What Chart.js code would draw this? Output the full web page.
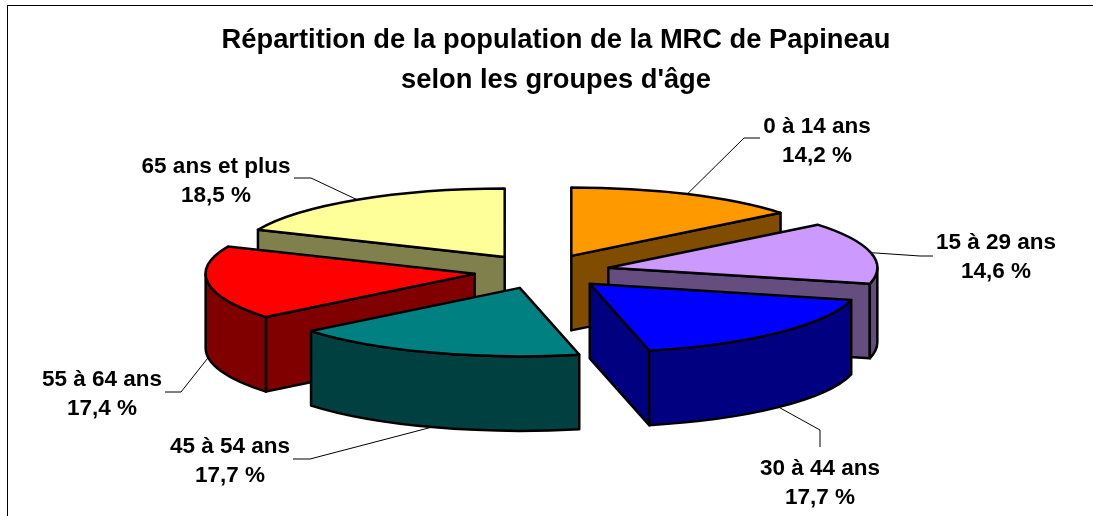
<!DOCTYPE html>
<html lang="fr">
<head>
<meta charset="utf-8">
<title>Répartition de la population de la MRC de Papineau</title>
<script src="https://cdn.jsdelivr.net/npm/chart.js@4/dist/chart.umd.min.js"></script>
<style>
  html, body { margin: 0; background: #fff; overflow: hidden; }
  #frame { position: absolute; left: 7px; top: 5px; right: 0; bottom: 0; border-left: 1px solid #000; border-top: 1px solid #000; }
  canvas { position: absolute; left: 0; top: 0; }
</style>
</head>
<body>
<div id="frame"></div>
<canvas id="pie" width="1093" height="516"></canvas>
<script>
// ===== Data =====
const ageGroups = ['0 à 14 ans', '15 à 29 ans', '30 à 44 ans', '45 à 54 ans', '55 à 64 ans', '65 ans et plus'];
const shares = [14.2, 14.6, 17.7, 17.7, 17.4, 18.5];
const titleLines = ['Répartition de la population de la MRC de Papineau', "selon les groupes d'âge"];

// ===== Colours =====
const topColors = ['#FF9900', '#CC99FF', '#0000FF', '#008080', '#FF0000', '#FFFF99'];
const sideColors = ['#804D00', '#664D80', '#000080', '#004040', '#800000', '#80804D'];

// ===== 3D look =====
const FONT = '"Liberation Sans", Arial, sans-serif';
const pieCenter = { x: 542, y: 271.5 };
const RADIUS = 269;
const TILT = 68.5 / 269; // vertical squash of the pie
const DEPTH = 74.5;
const EXPLODE = 68;

// label centre + first baseline, then the elbow of the leader line
const labelSpots = [
  { x: 817, y: 133, from: [760, 138], elbow: [744, 138] },
  { x: 996, y: 249, from: [933, 256], elbow: [920, 256] },
  { x: 820, y: 475, from: [820, 447], elbow: [820, 430] },
  { x: 230, y: 453, from: [293, 459], elbow: [310, 459] },
  { x: 102, y: 386, from: [165, 392], elbow: [181, 392] },
  { x: 216, y: 173, from: [294, 178], elbow: [311, 178] }
];

function apexOf(arc) {
  const mid = (arc.startAngle + arc.endAngle) / 2;
  return {
    x: pieCenter.x + Math.cos(mid) * EXPLODE,
    y: pieCenter.y + Math.sin(mid) * EXPLODE * TILT
  };
}

function rimPoint(apex, angle) {
  return {
    x: apex.x + Math.cos(angle) * RADIUS,
    y: apex.y + Math.sin(angle) * RADIUS * TILT
  };
}

function paintFace(ctx, color) {
  ctx.fillStyle = color;
  ctx.fill();
  ctx.stroke();
}

function drawWall(ctx, apex, angle, color) {
  const p = rimPoint(apex, angle);
  ctx.beginPath();
  ctx.moveTo(apex.x, apex.y);
  ctx.lineTo(p.x, p.y);
  ctx.lineTo(p.x, p.y + DEPTH);
  ctx.lineTo(apex.x, apex.y + DEPTH);
  ctx.closePath();
  paintFace(ctx, color);
}

function drawSlice(ctx, arc, index) {
  const apex = apexOf(arc);
  const s = arc.startAngle;
  const e = arc.endAngle;

  ctx.lineWidth = 2.5;
  ctx.strokeStyle = '#000';
  ctx.lineJoin = 'round';

  // cut faces looking at the viewer
  if (Math.cos(s) < 0) drawWall(ctx, apex, s, sideColors[index]);
  if (Math.cos(e) > 0) drawWall(ctx, apex, e, sideColors[index]);

  // outer rim, only the front half of the pie shows it
  const a0 = Math.max(s, 0);
  const a1 = Math.min(e, Math.PI);
  if (a1 > a0) {
    ctx.beginPath();
    ctx.ellipse(apex.x, apex.y, RADIUS, RADIUS * TILT, 0, a0, a1);
    ctx.ellipse(apex.x, apex.y + DEPTH, RADIUS, RADIUS * TILT, 0, a1, a0, true);
    ctx.closePath();
    paintFace(ctx, sideColors[index]);
  }

  // top face is the library's own arc, squashed and moved out
  ctx.save();
  ctx.translate(apex.x, apex.y);
  ctx.scale(1, TILT);
  ctx.translate(-arc.x, -arc.y);
  arc.draw(ctx);
  ctx.restore();

  ctx.beginPath();
  ctx.moveTo(apex.x, apex.y);
  ctx.ellipse(apex.x, apex.y, RADIUS, RADIUS * TILT, 0, s, e);
  ctx.closePath();
  ctx.stroke();
}

const pie3d = {
  id: 'pie3d',
  beforeDatasetsDraw(chart) {
    const ctx = chart.ctx;
    const arcs = chart.getDatasetMeta(0).data;
    // back slices first, front slices on top
    const order = arcs.map((arc, i) => i).sort((a, b) => {
      const midA = (arcs[a].startAngle + arcs[a].endAngle) / 2;
      const midB = (arcs[b].startAngle + arcs[b].endAngle) / 2;
      return Math.sin(midA) - Math.sin(midB);
    });
    ctx.save();
    order.forEach(i => drawSlice(ctx, arcs[i], i));
    ctx.restore();
    return false;
  },
  afterDraw(chart) {
    const ctx = chart.ctx;
    const arcs = chart.getDatasetMeta(0).data;
    ctx.save();
    arcs.forEach((arc, i) => {
      const spot = labelSpots[i];
      const mid = (arc.startAngle + arc.endAngle) / 2;
      const end = rimPoint(apexOf(arc), mid);
      if (Math.sin(mid) > 0) end.y += DEPTH;

      ctx.beginPath();
      ctx.moveTo(spot.from[0], spot.from[1]);
      ctx.lineTo(spot.elbow[0], spot.elbow[1]);
      ctx.lineTo(end.x, end.y);
      ctx.lineWidth = 1;
      ctx.strokeStyle = '#000';
      ctx.stroke();

      ctx.fillStyle = '#000';
      ctx.font = 'bold 22.5px ' + FONT;
      ctx.textAlign = 'center';
      ctx.fillText(ageGroups[i], spot.x, spot.y);
      ctx.fillText(shares[i].toFixed(1).replace('.', ',') + ' %', spot.x, spot.y + 29);
    });
    ctx.restore();
  }
};

new Chart(document.getElementById('pie'), {
  type: 'pie',
  data: {
    labels: ageGroups,
    datasets: [{
      data: shares,
      backgroundColor: topColors,
      borderWidth: 0,
      radius: RADIUS
    }]
  },
  options: {
    responsive: false,
    animation: false,
    layout: { padding: { left: 19 } },
    plugins: {
      legend: { display: false },
      tooltip: { enabled: false },
      title: {
        display: true,
        text: titleLines,
        color: '#000',
        font: { family: FONT, size: 27.3, weight: 'bold', lineHeight: 1.45 },
        padding: { top: 21, bottom: 0 }
      }
    }
  },
  plugins: [pie3d]
});
</script>
</body>
</html>
